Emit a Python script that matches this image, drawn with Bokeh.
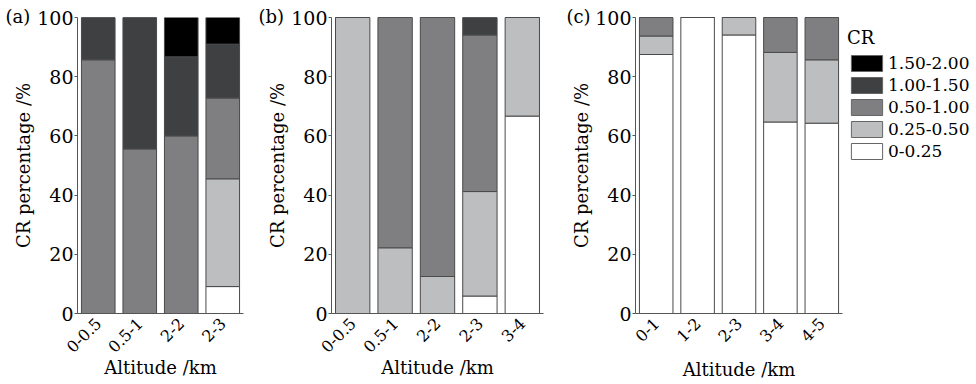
from math import pi
from bokeh.plotting import figure
from bokeh.models import ColumnDataSource, FactorRange, Range1d, Legend, LegendItem, FixedTicker
from bokeh.layouts import row
from bokeh.embed import file_html
from bokeh.resources import INLINE

FONT = "DejaVu Serif"

classes = ["0-0.25", "0.25-0.50", "0.50-1.00", "1.00-1.50", "1.50-2.00"]
colors = ["#ffffff", "#bdbec0", "#7f7f81", "#3f4042", "#000000"]

# Panel (a)
a_cats = ["0-0.5", "0.5-1", "2-2", "2-3"]
a_000_025 = [0, 0, 0, 9.1]
a_025_050 = [0, 0, 0, 36.4]
a_050_100 = [85.7, 55.6, 60.0, 27.3]
a_100_150 = [14.3, 44.4, 26.7, 18.2]
a_150_200 = [0, 0, 13.3, 9.0]

# Panel (b)
b_cats = ["0-0.5", "0.5-1", "2-2", "2-3", "3-4"]
b_000_025 = [0, 0, 0, 5.9, 66.7]
b_025_050 = [100, 22.2, 12.5, 35.3, 33.3]
b_050_100 = [0, 77.8, 87.5, 52.9, 0]
b_100_150 = [0, 0, 0, 5.9, 0]
b_150_200 = [0, 0, 0, 0, 0]

# Panel (c)
c_cats = ["0-1", "1-2", "2-3", "3-4", "4-5"]
c_000_025 = [87.5, 100, 94.1, 64.7, 64.3]
c_025_050 = [6.25, 0, 5.9, 23.5, 21.4]
c_050_100 = [6.25, 0, 0, 11.8, 14.3]
c_100_150 = [0, 0, 0, 0, 0]
c_150_200 = [0, 0, 0, 0, 0]

LINE = "#4a4a4a"
TXT = "#000000"


def make_source(cats, series):
    data = {"cat": cats}
    for cls, vals in zip(classes, series):
        data[cls] = vals
    return ColumnDataSource(data)


def make_panel(tag, tag_off, src, cats, width, L, R, B, title_standoff=0):
    p = figure(x_range=FactorRange(*cats), y_range=Range1d(0, 100),
               width=width, height=384,
               min_border_left=L, min_border_right=R, min_border_top=17, min_border_bottom=B,
               output_backend="svg", toolbar_location=None)
    p.vbar_stack(classes, x="cat", width=0.81, source=src,
                 fill_color=colors, line_color=LINE, line_width=1)
    p.grid.visible = False
    p.outline_line_color = None
    p.background_fill_color = "white"
    p.border_fill_color = "white"

    # panel tag "(a)" drawn beside the top tick label
    p.title.text = tag
    p.title.align = "left"
    p.title.offset = tag_off
    p.title.vertical_align = "middle"
    p.title.standoff = -20
    p.title.text_font = FONT
    p.title.text_font_size = "18px"
    p.title.text_font_style = "normal"
    p.title.text_color = TXT

    p.xaxis.axis_label = "Altitude /km"
    p.yaxis.axis_label = "CR percentage /%"
    p.yaxis.ticker = FixedTicker(ticks=[0, 20, 40, 60, 80, 100])
    p.xaxis.major_label_orientation = pi / 4
    p.xaxis.minor_tick_line_color = None
    p.yaxis.minor_tick_line_color = None
    p.yaxis.major_tick_out = 3
    p.yaxis.major_tick_in = 0
    p.axis.axis_line_color = "#555555"
    p.axis.major_tick_line_color = "#555555"
    p.xaxis.major_tick_line_color = None
    p.axis.major_label_text_font = FONT
    p.axis.major_label_text_color = TXT
    p.yaxis.major_label_text_font_size = "19px"
    p.xaxis.major_label_text_font_size = "16px"
    p.yaxis.major_label_standoff = 1
    p.xaxis.major_label_standoff = 1
    p.axis.axis_label_text_font = FONT
    p.axis.axis_label_text_font_style = "normal"
    p.axis.axis_label_text_font_size = "18px"
    p.axis.axis_label_text_color = TXT
    p.yaxis.axis_label_standoff = 0
    p.xaxis.axis_label_standoff = title_standoff
    return p


src_a = make_source(a_cats, [a_000_025, a_025_050, a_050_100, a_100_150, a_150_200])
src_b = make_source(b_cats, [b_000_025, b_025_050, b_050_100, b_100_150, b_150_200])
src_c = make_source(c_cats, [c_000_025, c_025_050, c_050_100, c_100_150, c_150_200])

pa = make_panel("(a)", -72, src_a, a_cats, 250, 77, 7, 71, title_standoff=-4)
pb = make_panel("(b)", -73, src_b, b_cats, 301, 81, 8, 71, title_standoff=-4)
pc = make_panel("(c)", -69, src_c, c_cats, 292, 84, 1, 67, title_standoff=9)

# legend panel: its own small figure; its renderers are hidden, only the legend shows
pl = figure(width=133, height=384, x_range=FactorRange(*c_cats), y_range=Range1d(200, 300),
            x_axis_type=None, y_axis_type=None,
            min_border_left=0, min_border_right=0, min_border_top=0, min_border_bottom=0,
            output_backend="svg", toolbar_location=None)
pl.grid.visible = False
pl.outline_line_color = None
lrs = pl.vbar_stack(classes, x="cat", width=0.8, source=src_c,
                    fill_color=colors, line_color="#666666", line_width=1)
for r in lrs:
    r.visible = False
items = [LegendItem(label=cls, renderers=[r]) for cls, r in zip(classes, lrs)][::-1]
lg = Legend(items=items, title="CR", location=(0, 148),
            glyph_width=39, glyph_height=20, label_height=20, spacing=2,
            padding=4, margin=0, label_standoff=2,
            border_line_alpha=0, background_fill_alpha=0,
            inactive_fill_alpha=0,
            title_text_font=FONT, title_text_font_size="18px",
            title_text_font_style="normal", title_standoff=5,
            label_text_font=FONT, label_text_font_size="17px",
            label_text_color=TXT, title_text_color=TXT)
pl.add_layout(lg)

layout = row(pa, pb, pc, pl)
open("out.html", "w").write(file_html(layout, INLINE))
